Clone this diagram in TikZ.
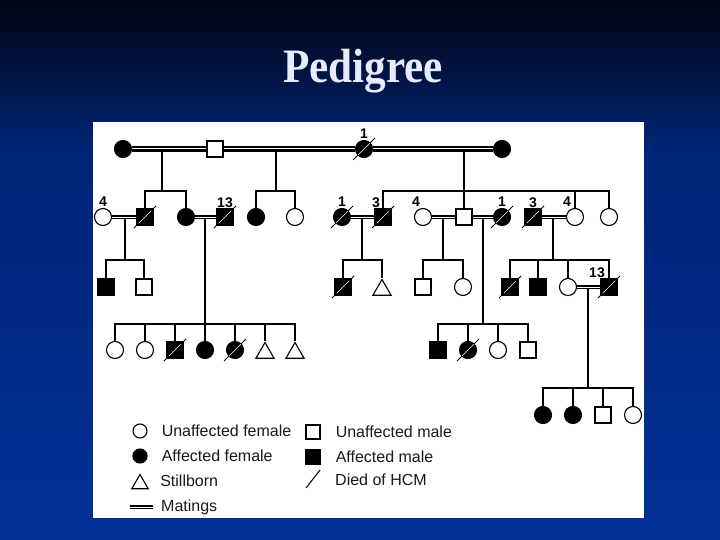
\documentclass[tikz,border=0pt]{standalone}
\usepackage{fontspec}
\setmainfont{Liberation Serif}
\newfontfamily\lgfont{Liberation Sans}
\usetikzlibrary{shapes.geometric, positioning}
\definecolor{bgtop}{RGB}{0,4,18}
\definecolor{bgmid}{RGB}{0,36,118}
\definecolor{bgbot}{RGB}{0,48,150}
\definecolor{ttlcol}{RGB}{232,234,255}

\begin{document}
\begin{tikzpicture}[
    x=1pt, y=-1pt,
    every node/.style={font=\lgfont},
    ped/.style={draw=black, line width=1.1pt, minimum size=17pt, inner sep=0pt, fill=white, label distance=1.5pt},
    fem/.style={ped, circle},
    afem/.style={fem, fill=black},
    mal/.style={ped, rectangle, minimum size=16pt},
    amal/.style={mal, fill=black},
    still/.style={ped, regular polygon, regular polygon sides=3, minimum size=21pt},
    lgsym/.style={minimum size=14pt},
    num/.style={font=\lgfont\bfseries\fontsize{14}{14}\selectfont, inner sep=1pt},
    lgtxt/.style={font=\lgfont\fontsize{16}{16}\selectfont, text=black!90, inner sep=2pt},
    kin/.style={draw=black, line width=1.1pt},
    mate/.style={draw=black, line width=1.8pt, double=white, double distance=0.9pt},
    mateI/.style={mate, line width=2.4pt, double distance=1pt},
    hcm/.style={draw=black, line width=1pt},
    hcmin/.style={draw=white, line width=0.6pt}
]
\useasboundingbox (0,0) rectangle (720,540);
\fill[bgbot] (0,0) rectangle (720,540);
\shade[top color=bgtop, bottom color=bgmid] (0,0) rectangle (720,150);
\shade[top color=bgmid, bottom color=bgbot] (0,150) rectangle (720,540);
\node[font=\rmfamily\bfseries\fontsize{48}{48}\selectfont, text=ttlcol, anchor=base] (title) at (363,83) {\scalebox{0.9}[1]{Pedigree}};
\fill[white] (93,122) rectangle (644,518);

\node[afem] (i1) at (123,149) {};
\node[mal]  (i2) at (215,149) {};
\node[afem, label={[num]above:1}] (i3) at (364,149) {};
\node[afem] (i4) at (502,149) {};

\node[fem, label={[num]above:4}] (ii1) at (103,217) {};
\node[amal] (ii2) at (145,217) {};
\node[afem] (ii3) at (186,217) {};
\node[amal, label={[num]above:13}] (ii4) at (225,217) {};
\node[afem] (ii5) at (256,217) {};
\node[fem]  (ii6) at (295,217) {};
\node[afem, label={[num]above:1}] (ii7) at (342,217) {};
\node[amal, label={[num, xshift=-7pt]above:3}] (ii8) at (383,217) {};
\node[fem, label={[num, xshift=-7pt]above:4}] (ii9) at (423,217) {};
\node[mal]  (ii10) at (464,217) {};
\node[afem, label={[num]above:1}] (ii11) at (502,217) {};
\node[amal, label={[num]above:3}] (ii12) at (533,217) {};
\node[fem, label={[num, xshift=-8pt]above:4}] (ii13) at (575,217) {};
\node[fem]  (ii14) at (609,217) {};

\node[amal]  (iii1) at (106,287) {};
\node[mal]   (iii2) at (144,287) {};
\node[amal]  (iii3) at (343,287) {};
\node[still] (iii4) at (382,290) {};
\node[mal]   (iii5) at (423,287) {};
\node[fem]   (iii6) at (463,287) {};
\node[amal]  (iii7) at (510,287) {};
\node[amal]  (iii8) at (538,287) {};
\node[fem]   (iii9) at (568,287) {};
\node[amal, label={[num, xshift=-12pt]above:13}] (iii10) at (609,287) {};

\node[fem]   (c1) at (115,350) {};
\node[fem]   (c2) at (145,350) {};
\node[amal]  (c3) at (175,350) {};
\node[afem]  (c4) at (205,350) {};
\node[afem]  (c5) at (235,350) {};
\node[still] (c6) at (265,353) {};
\node[still] (c7) at (295,353) {};

\node[amal] (d1) at (438,350) {};
\node[afem] (d2) at (468,350) {};
\node[fem]  (d3) at (498,350) {};
\node[mal]  (d4) at (528,350) {};

\node[afem] (iv1) at (543,415) {};
\node[afem] (iv2) at (573,415) {};
\node[mal]  (iv3) at (603,415) {};
\node[fem]  (iv4) at (633,415) {};

\coordinate (fa) at (162,149);  \coordinate (ba) at (162,191);
\coordinate (fb) at (276,149);  \coordinate (bb) at (276,191);
\coordinate (fc) at (464,149);  \coordinate (bc) at (464,191);
\coordinate (fd) at (125,217);  \coordinate (bd) at (125,260);
\coordinate (fe) at (205,217);
\coordinate (ff) at (362,217);  \coordinate (bf) at (362,260);
\coordinate (fg) at (443,217);  \coordinate (bg) at (443,260);
\coordinate (fh) at (483,217);  \coordinate (bh) at (483,324);
\coordinate (fj) at (553,217);  \coordinate (bj) at (553,260);
\coordinate (fk) at (588,287);  \coordinate (bk) at (588,388);

\draw[kin] (fa) -- (ba) (ii2) |- (ba) -| (ii3);
\draw[kin] (fb) -- (bb) (ii5) |- (bb) -| (ii6);
\draw[kin] (fc) -- (ii10) (ii8) |- (bc) -| (ii14) (ii13) -- (ii13 |- bc);
\draw[kin] (fd) -- (bd) (iii1) |- (bd) -| (iii2);
\draw[kin] (fe) -- (c4) (c1) |- (c4 |- 0,324) -| (c7);
\foreach \n in {c2,c3,c5,c6} \draw[kin] (\n) -- (\n |- 0,324);
\draw[kin] (ff) -- (bf) (iii3) |- (bf) -| (iii4);
\draw[kin] (fg) -- (bg) (iii5) |- (bg) -| (iii6);
\draw[kin] (fh) -- (bh) (d1) |- (bh) -| (d4) (d2) -- (d2 |- bh) (d3) -- (d3 |- bh);
\draw[kin] (fj) -- (bj) (iii7) |- (bj) -| (iii10) (iii8) -- (iii8 |- bj) (iii9) -- (iii9 |- bj);
\draw[kin] (fk) -- (bk) (iv1) |- (bk) -| (iv4) (iv2) -- (iv2 |- bk) (iv3) -- (iv3 |- bk);

\draw[mateI] (i1) -- (i2) (i2) -- (i3) (i3) -- (i4);
\draw[mate] (ii1) -- (ii2) (ii3) -- (ii4) (ii7) -- (ii8) (ii9) -- (ii10) (ii10) -- (ii11) (ii12) -- (ii13);
\draw[mate] (iii9) -- (iii10);

\foreach \n in {i3,ii2,ii4,ii7,ii8,ii11,ii12,iii3,iii7,iii10,c3,c5,d2} {
  \draw[hcm] ([shift={(-11,11)}]\n.center) -- ([shift={(11,-11)}]\n.center);
  \draw[hcmin] ([shift={(-6,6)}]\n.center) -- ([shift={(6,-6)}]\n.center);
}

\node[fem, lgsym] (lg1) at (140,431) {};
\node[afem, lgsym] (lg2) at (140,456) {};
\node[still, minimum size=19pt] (lg3) at (140,484) {};
\coordinate (lgm1) at (130,507);
\coordinate (lgm2) at (153,507);
\draw[mate] (lgm1) -- (lgm2);
\node[mal, lgsym] (lg5) at (313,432) {};
\node[amal, lgsym] (lg6) at (313,457) {};
\coordinate (lg7) at (313,480);
\draw[hcm] ([shift={(-7,8)}]lg7) -- ([shift={(7,-10)}]lg7);

\node[lgtxt, right=12pt of lg1] {Unaffected female};
\node[lgtxt, right=12pt of lg2] {Affected female};
\node[lgtxt, right=12pt of lg3, yshift=3pt] {Stillborn};
\node[lgtxt, right=6pt of lgm2] {Matings};
\node[lgtxt, right=13pt of lg5] {Unaffected male};
\node[lgtxt, right=13pt of lg6] {Affected male};
\node[lgtxt, right=20pt of lg7] {Died of HCM};
\end{tikzpicture}
\end{document}
